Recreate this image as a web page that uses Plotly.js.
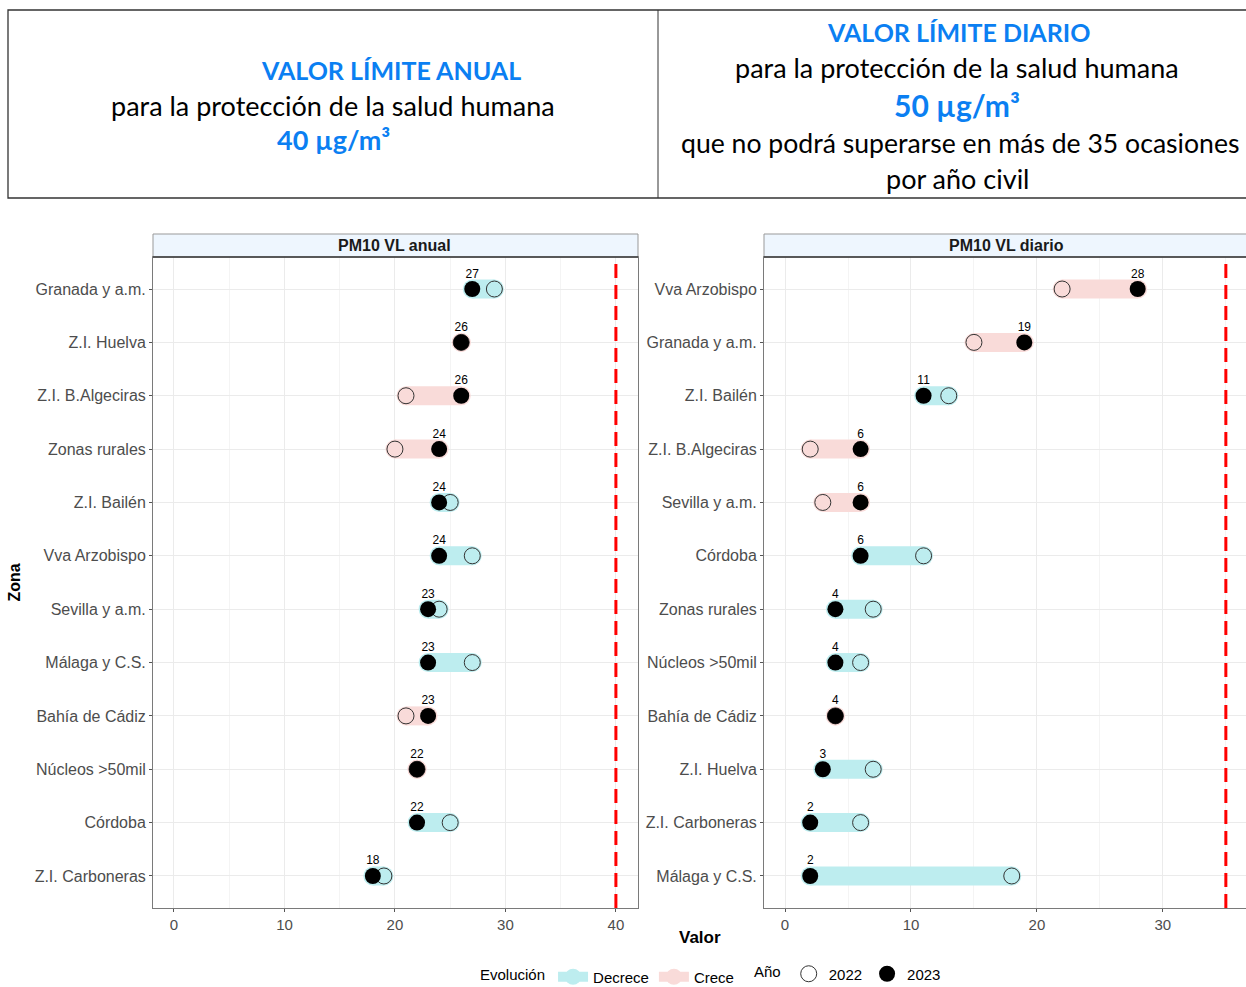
<!DOCTYPE html>
<html>
<head>
<meta charset="utf-8">
<script src="https://cdn.plot.ly/plotly-3.0.1.min.js"></script>
<style>
  body { margin: 0; background: #fff; }
  #plot { width: 1246px; height: 987px; }
</style>
</head>
<body>
<div id="plot"></div>
<script>
// datos PM10 (2022 vs 2023)
var zonasAnual = ["Granada y a.m.", "Z.I. Huelva", "Z.I. B.Algeciras", "Zonas rurales", "Z.I. Bailén", "Vva Arzobispo",
  "Sevilla y a.m.", "Málaga y C.S.", "Bahía de Cádiz", "Núcleos >50mil", "Córdoba", "Z.I. Carboneras"];
var anual2022 = [29, 26, 21, 20, 25, 27, 24, 27, 21, 22, 25, 19];
var anual2023 = [27, 26, 26, 24, 24, 24, 23, 23, 23, 22, 22, 18];

var zonasDiario = ["Vva Arzobispo", "Granada y a.m.", "Z.I. Bailén", "Z.I. B.Algeciras", "Sevilla y a.m.", "Córdoba",
  "Zonas rurales", "Núcleos >50mil", "Bahía de Cádiz", "Z.I. Huelva", "Z.I. Carboneras", "Málaga y C.S."];
var diario2022 = [22, 15, 13, 2, 3, 11, 7, 6, 4, 7, 6, 18];
var diario2023 = [28, 19, 11, 6, 6, 6, 4, 4, 4, 3, 2, 2];

var limAnual = 40;
var limDiario = 35;

var W = 1246, H = 987;
function px(v) { return v / W; }
function py(v) { return 1 - v / H; }

var colDecrece = '#bdedef';
var colCrece = '#f9dbd9';
var fuente = 'Liberation Sans, Arial, sans-serif';

function bandas(zonas, v22, v23, xa, ya, leyenda) {
  var dec = {x: [], y: []}, cre = {x: [], y: []};
  for (var i = 0; i < zonas.length; i++) {
    var t = v23[i] < v22[i] ? dec : cre;
    t.x.push(v22[i], v23[i], null);
    t.y.push(zonas[i], zonas[i], null);
  }
  function traza(d, nombre, col) {
    return {
      x: d.x, y: d.y, xaxis: xa, yaxis: ya, type: 'scatter', mode: 'lines+markers',
      line: {color: col, width: 19}, marker: {color: col, size: 19},
      name: nombre, legend: 'legend', showlegend: leyenda, hoverinfo: 'skip', connectgaps: false
    };
  }
  return [traza(dec, 'Decrece', colDecrece), traza(cre, 'Crece', colCrece)];
}

function puntos(zonas, v22, v23, xa, ya, leyenda) {
  return [
    {
      x: v22, y: zonas, xaxis: xa, yaxis: ya, type: 'scatter', mode: 'markers', name: '2022',
      marker: {size: 16, color: 'rgba(0,0,0,0)', line: {color: '#333', width: 1}},
      legend: 'legend2', showlegend: leyenda
    },
    {
      x: v23, y: zonas, xaxis: xa, yaxis: ya, type: 'scatter', mode: 'markers', name: '2023',
      marker: {size: 16, color: '#000'},
      legend: 'legend2', showlegend: leyenda
    },
    {
      // etiquetas del 2023 encima del punto
      x: v23, y: zonas, xaxis: xa, yaxis: ya, type: 'scatter', mode: 'markers+text',
      marker: {size: 12, color: 'rgba(0,0,0,0)'},
      text: v23.map(String), textposition: 'top center',
      textfont: {family: fuente, size: 12, color: '#000'},
      showlegend: false, hoverinfo: 'skip'
    }
  ];
}

var data = []
  .concat(bandas(zonasAnual, anual2022, anual2023, 'x', 'y', true))
  .concat(bandas(zonasDiario, diario2022, diario2023, 'x2', 'y2', false))
  .concat(puntos(zonasAnual, anual2022, anual2023, 'x', 'y', true))
  .concat(puntos(zonasDiario, diario2022, diario2023, 'x2', 'y2', false));

var yDom = [py(908), py(257)];

function ejeX(dom, rango, anchor) {
  return {
    domain: dom, range: rango, anchor: anchor, dtick: 10, tick0: 0,
    showgrid: true, gridcolor: '#ebebeb', gridwidth: 1,
    minor: {dtick: 5, tick0: 0, showgrid: true, gridcolor: '#f4f4f4', gridwidth: 1},
    zeroline: false, showline: true, mirror: true, linecolor: '#7a7a7a', linewidth: 1,
    ticks: 'outside', ticklen: 3, tickcolor: '#555', automargin: false,
    tickfont: {family: fuente, size: 15, color: '#4d4d4d'}
  };
}
function ejeY(zonas, anchor, titulo) {
  var e = {
    domain: yDom, anchor: anchor, type: 'category', categoryarray: zonas, categoryorder: 'array',
    range: [zonas.length - 0.4, -0.6],
    showgrid: true, gridcolor: '#ebebeb', gridwidth: 1,
    zeroline: false, showline: true, mirror: true, linecolor: '#7a7a7a', linewidth: 1,
    ticks: 'outside', ticklen: 3, tickcolor: '#555', automargin: false,
    tickfont: {family: fuente, size: 16, color: '#4d4d4d'}
  };
  if (titulo) {
    e.title = {text: titulo, font: {family: fuente, size: 16, color: '#000', weight: 'bold'}, standoff: 10};
  }
  return e;
}

var azul = '#0b7ff2';
var fHead = 'Lato, Noto Sans, sans-serif';
function texto(x, y, t, size, col, bold, fam) {
  return {
    xref: 'paper', yref: 'paper', x: px(x), y: py(y), xanchor: 'center', yanchor: 'middle',
    text: bold ? '<b>' + t + '</b>' : t, showarrow: false,
    font: {family: fam || fHead, size: size, color: col}
  };
}

var annotations = [
  texto(391, 70, 'VALOR LÍMITE ANUAL', 25, azul, true),
  texto(333, 105, 'para la protección de la salud humana', 27, '#000', false),
  texto(333, 140, '40 µg/m³', 27, azul, true),
  texto(958, 32, 'VALOR LÍMITE DIARIO', 25, azul, true),
  texto(957, 68, 'para la protección de la salud humana', 27, '#000', false),
  texto(957, 105, '50 µg/m³', 30, azul, true),
  texto(960, 143, 'que no podrá superarse en más de 35 ocasiones', 26.6, '#000', false),
  texto(957, 178, 'por año civil', 27, '#000', false),
  texto(395, 246, 'PM10 VL anual', 16, '#1a1a1a', true, fuente),
  texto(1006, 246, 'PM10 VL diario', 16, '#1a1a1a', true, fuente),
  texto(700, 937, 'Valor', 17, '#000', true, fuente)
];

var shapes = [
  {type: 'rect', xref: 'paper', yref: 'paper', x0: px(8), x1: 1.01, y0: py(198), y1: py(10),
    line: {color: '#333', width: 1.3}},
  {type: 'line', xref: 'paper', yref: 'paper', x0: px(658), x1: px(658), y0: py(198), y1: py(10),
    line: {color: '#333', width: 1}},
  {type: 'rect', xref: 'paper', yref: 'paper', x0: px(153), x1: px(638), y0: py(257), y1: py(234),
    fillcolor: '#eef6fe', line: {color: '#999', width: 1}},
  {type: 'rect', xref: 'paper', yref: 'paper', x0: px(764), x1: 1.01, y0: py(257), y1: py(234),
    fillcolor: '#eef6fe', line: {color: '#999', width: 1}},
  {type: 'line', xref: 'paper', yref: 'paper', x0: px(153), x1: px(638), y0: py(257), y1: py(257),
    line: {color: '#333', width: 1.5}},
  {type: 'line', xref: 'paper', yref: 'paper', x0: px(764), x1: 1, y0: py(257), y1: py(257),
    line: {color: '#333', width: 1.5}},
  {type: 'line', xref: 'x', yref: 'y domain', x0: limAnual, x1: limAnual, y0: 0, y1: 1,
    line: {color: '#ff0000', width: 3, dash: '14px,7px'}},
  {type: 'line', xref: 'x2', yref: 'y2 domain', x0: limDiario, x1: limDiario, y0: 0, y1: 1,
    line: {color: '#ff0000', width: 3, dash: '14px,7px'}}
];

var layout = {
  width: W, height: H,
  margin: {l: 0, r: 0, t: 0, b: 0, autoexpand: false},
  paper_bgcolor: '#fff', plot_bgcolor: '#fff',
  font: {family: fuente, color: '#000'},
  xaxis: ejeX([px(153), px(638)], [-1.9, 42], 'y'),
  yaxis: ejeY(zonasAnual, 'x', 'Zona'),
  xaxis2: ejeX([px(764), 1], [-1.67, 36.6], 'y2'),
  yaxis2: ejeY(zonasDiario, 'x2', null),
  legend: {
    orientation: 'h', x: px(478), y: py(977), xanchor: 'left', yanchor: 'middle',
    title: {text: 'Evolución', side: 'left', font: {family: fuente, size: 15}},
    font: {family: fuente, size: 15, color: '#000'}, itemwidth: 30, tracegroupgap: 0,
    bgcolor: 'rgba(0,0,0,0)'
  },
  legend2: {
    orientation: 'h', x: px(752), y: py(974), xanchor: 'left', yanchor: 'middle',
    title: {text: 'Año', side: 'left', font: {family: fuente, size: 15}},
    font: {family: fuente, size: 15, color: '#000'}, itemwidth: 30,
    bgcolor: 'rgba(0,0,0,0)'
  },
  annotations: annotations,
  shapes: shapes,
  hovermode: 'closest'
};

Plotly.newPlot('plot', data, layout, {displayModeBar: false, staticPlot: true});
</script>
</body>
</html>
